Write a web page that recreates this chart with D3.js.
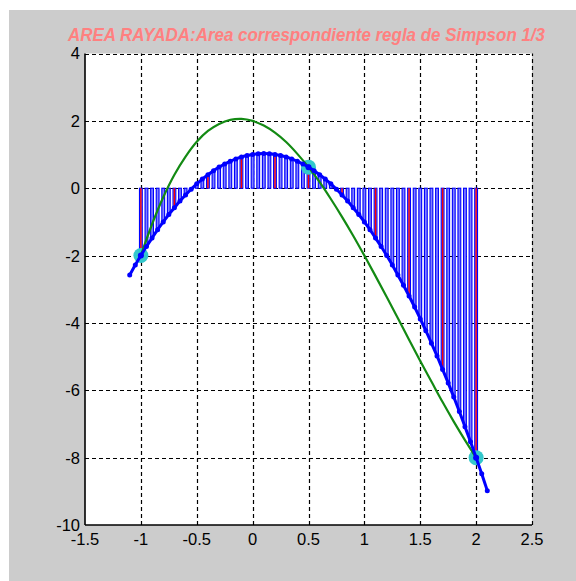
<!DOCTYPE html>
<html>
<head>
<meta charset="utf-8">
<script src="https://cdn.jsdelivr.net/npm/d3@7"></script>
<style>
  body { margin: 0; background: #fff; }
  svg { display: block; }
  text { font-family: "Liberation Sans", Arial, sans-serif; }
</style>
</head>
<body>
<svg width="576" height="581"></svg>
<script>
// data
var title = "AREA RAYADA:Area correspondiente regla de Simpson 1/3";
var xTicks = [-1.5, -1, -0.5, 0, 0.5, 1, 1.5, 2, 2.5];
var yTicks = [-10, -8, -6, -4, -2, 0, 2, 4];

// simpson nodes
var nodeX = [-1, 0.5, 2];
var nodeY = [-2, 0.625, -8];

// hatch stems (x = -1 .. 2 every 0.05)
var stemX = d3.range(61).map(function(i) { return +(-1 + i * 0.05).toFixed(2); });
var stemY = [-2, -1.73, -1.48, -1.23, -1, -0.78, -0.58, -0.38, -0.2, -0.03,
  0.13, 0.27, 0.4, 0.52, 0.63, 0.72, 0.8, 0.87, 0.93, 0.97,
  1, 1.02, 1.03, 1.02, 1, 0.97, 0.93, 0.87, 0.8, 0.72,
  0.63, 0.52, 0.4, 0.27, 0.13, -0.03, -0.2, -0.38, -0.58, -0.78,
  -1, -1.23, -1.48, -1.73, -2, -2.28, -2.58, -2.88, -3.2, -3.53,
  -3.88, -4.23, -4.6, -4.98, -5.38, -5.78, -6.2, -6.63, -7.08, -7.53, -8];

// red stems
var redX = [-1, -0.7, -0.4, -0.1, 0.2, 0.5, 0.8, 1.1, 1.4, 1.7, 2];
var redY = [-2, -0.58, 0.4, 0.93, 1, 0.63, -0.2, -1.48, -3.2, -5.38, -8];

// blue parabola, a bit wider than the stems
var parX = [-1.1, -1.05].concat(stemX, [2.05, 2.1]);
var parY = [-2.58, -2.28].concat(stemY, [-8.48, -8.98]);

// green curve (x = -1 .. 2 every 0.1)
var greenX = d3.range(31).map(function(i) { return +(-1 + i * 0.1).toFixed(1); });
var greenY = [-2, -1.07, -0.27, 0.4, 0.94, 1.38, 1.7, 1.91, 2.03, 2.06,
  2, 1.86, 1.65, 1.37, 1.02, 0.625, 0.18, -0.32, -0.85, -1.41,
  -2, -2.61, -3.23, -3.86, -4.5, -5.13, -5.74, -6.35, -6.93, -7.48, -8];

var svg = d3.select("svg");

//figure background
svg.append("rect").attr("x", 9).attr("y", 10).attr("width", 567).attr("height", 571)
  .attr("fill", "#cccccc");

var x = d3.scaleLinear().domain([-1.5, 2.5]).range([85, 532]);
var y = d3.scaleLinear().domain([-10, 4]).range([525, 53.5]);

svg.append("rect").attr("x", x(-1.5)).attr("y", y(4))
  .attr("width", x(2.5) - x(-1.5)).attr("height", y(-10) - y(4))
  .attr("fill", "#fff");

//grid
var grid = svg.append("g").attr("stroke", "#000").attr("stroke-width", 1.2)
  .attr("stroke-dasharray", "4,3");
grid.selectAll(".gx").data(xTicks.slice(1)).enter().append("line")
  .attr("x1", function(d) { return Math.round(x(d)) + 0.5; })
  .attr("x2", function(d) { return Math.round(x(d)) + 0.5; })
  .attr("y1", y(-10)).attr("y2", y(4));
grid.selectAll(".gy").data(yTicks.slice(1)).enter().append("line")
  .attr("y1", function(d) { return Math.round(y(d)) + 0.5; })
  .attr("y2", function(d) { return Math.round(y(d)) + 0.5; })
  .attr("x1", x(-1.5)).attr("x2", x(2.5));

//stems
svg.append("g").selectAll("rect").data(stemX).enter().append("rect")
  .attr("x", function(d) { return x(d) - 1.4; })
  .attr("width", 2.8)
  .attr("y", function(d, i) { return Math.min(y(0), y(stemY[i])); })
  .attr("height", function(d, i) { return Math.abs(y(stemY[i]) - y(0)); })
  .attr("fill", "#8080ff")
  .attr("stroke", "#0000ff")
  .attr("stroke-width", 1.1);

svg.append("g").selectAll("line").data(redX).enter().append("line")
  .attr("x1", function(d) { return x(d); }).attr("x2", function(d) { return x(d); })
  .attr("y1", y(0)).attr("y2", function(d, i) { return y(redY[i]); })
  .attr("stroke", "#ff0000").attr("stroke-width", 1.4);

//cyan node markers
svg.append("g").selectAll("circle").data(nodeX).enter().append("circle")
  .attr("cx", function(d) { return x(d); })
  .attr("cy", function(d, i) { return y(nodeY[i]); })
  .attr("r", 7.5)
  .attr("fill", "#33c8cc");

//green curve
var lineG = d3.line().curve(d3.curveCatmullRom)
  .x(function(d) { return x(d); })
  .y(function(d, i) { return y(greenY[i]); });
svg.append("path").datum(greenX).attr("d", lineG)
  .attr("fill", "none").attr("stroke", "#138a13").attr("stroke-width", 2.2);

//blue parabola with dot markers
var lineB = d3.line().curve(d3.curveCatmullRom)
  .x(function(d) { return x(d); })
  .y(function(d, i) { return y(parY[i]); });
svg.append("path").datum(parX).attr("d", lineB)
  .attr("fill", "none").attr("stroke", "#0000ff").attr("stroke-width", 3);
svg.append("g").selectAll("circle").data(parX).enter().append("circle")
  .attr("cx", function(d) { return x(d); })
  .attr("cy", function(d, i) { return y(parY[i]); })
  .attr("r", 2.5)
  .attr("fill", "#0000ff");

svg.append("g").selectAll("circle").data(nodeX).enter().append("circle")
  .attr("cx", function(d) { return x(d); })
  .attr("cy", function(d, i) { return y(nodeY[i]); })
  .attr("r", 3)
  .attr("fill", "#0000ff");

//axes lines (left and bottom only)
svg.append("line").attr("x1", x(-1.5)).attr("x2", x(-1.5)).attr("y1", y(4)).attr("y2", y(-10))
  .attr("stroke", "#000").attr("stroke-width", 1.6);
svg.append("line").attr("x1", x(-1.5)).attr("x2", x(2.5)).attr("y1", y(-10)).attr("y2", y(-10))
  .attr("stroke", "#000").attr("stroke-width", 1.6);

//tick labels
svg.append("g").selectAll("text").data(xTicks).enter().append("text")
  .attr("x", function(d) { return x(d); })
  .attr("y", 545)
  .attr("text-anchor", "middle")
  .attr("font-size", 16.5)
  .text(function(d) { return d; });
svg.append("g").selectAll("text").data(yTicks).enter().append("text")
  .attr("x", 80)
  .attr("y", function(d) { return y(d); })
  .attr("dy", "0.36em")
  .attr("text-anchor", "end")
  .attr("font-size", 16.5)
  .text(function(d) { return d; });

//title
svg.append("text")
  .attr("x", 306.5).attr("y", 40.5)
  .attr("text-anchor", "middle")
  .attr("font-size", 18)
  .attr("font-weight", "bold")
  .attr("font-style", "italic")
  .attr("fill", "#ff8080")
  .attr("textLength", 477)
  .attr("lengthAdjust", "spacingAndGlyphs")
  .text(title);
</script>
</body>
</html>
